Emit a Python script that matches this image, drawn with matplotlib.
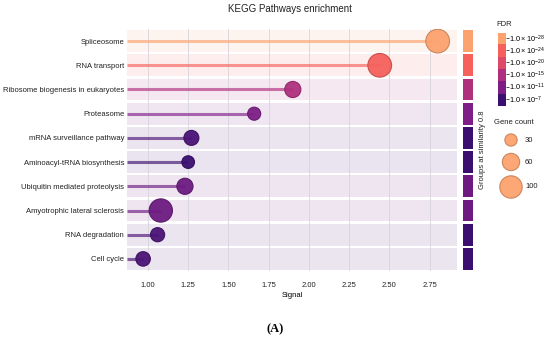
import numpy as np
import matplotlib
matplotlib.use('Agg')
import matplotlib.pyplot as plt
from matplotlib.colors import LinearSegmentedColormap, Normalize, to_rgb

plt.rcParams['font.family'] = ['Liberation Sans', 'DejaVu Sans']
plt.rcParams['mathtext.fontset'] = 'custom'
plt.rcParams['mathtext.rm'] = 'Liberation Sans'
plt.rcParams['mathtext.it'] = 'Liberation Sans'

# data
pathways = ['Spliceosome', 'RNA transport', 'Ribosome biogenesis in eukaryotes',
            'Proteasome', 'mRNA surveillance pathway', 'Aminoacyl-tRNA biosynthesis',
            'Ubiquitin mediated proteolysis', 'Amyotrophic lateral sclerosis',
            'RNA degradation', 'Cell cycle']
signal = [2.80, 2.44, 1.90, 1.66, 1.27, 1.25, 1.23, 1.08, 1.06, 0.97]
gene_count = [112, 112, 52, 34, 45, 32, 52, 108, 40, 42]
fdr_exp = [-29, -24, -15, -11, -8, -7, -10, -10, -8, -8]
group_exp = [-29, -24, -15, -11, -7, -7, -10, -10, -7, -7]

fdr_ticks = [-28, -24, -20, -15, -11, -7]
size_legend = [30, 60, 100]
xticks = [1.00, 1.25, 1.50, 1.75, 2.00, 2.25, 2.50, 2.75]

# colour scale (dark -> light)
cols = ['#3b0f70', '#7e1f87', '#b0307e', '#de4968', '#f6605c', '#fca26e']
norm = Normalize(7, 28)
pos = [norm(-e) for e in fdr_ticks[::-1]]
cmap = LinearSegmentedColormap.from_list('fdr', list(zip(pos, cols)))


def darker(c, f=0.8):
    r, g, b = to_rgb(c)
    return (r * f, g * f, b * f)


W, H = 550, 341
fig = plt.figure(figsize=(W / 100, H / 100), dpi=100)

ax = fig.add_axes([127 / W, 1 - 271 / H, 330 / W, 242 / H])
n = len(pathways)
y = np.arange(n)
pcols = [cmap(norm(-e)) for e in fdr_exp]
xmin, xmax = 0.87, 2.92

for i in range(n):
    ax.axhspan(i - 0.45, i + 0.45, color=pcols[i], alpha=0.11, lw=0, zorder=0)
for t in xticks:
    ax.axvline(t, color='#d6d4dc', lw=0.6, zorder=1)
ax.hlines(y, xmin, signal, colors=pcols, lw=2.2, alpha=0.65, zorder=2)
ax.scatter(signal, y, s=np.array(gene_count) * 2.6, c=pcols,
           edgecolors=[darker(c) for c in pcols], linewidths=0.8, alpha=0.95, zorder=3)

ax.set_xlim(xmin, xmax)
ax.set_ylim(n - 0.5, -0.5)
ax.set_yticks(y)
ax.set_yticklabels(pathways, fontsize=5.5, color='#222222')
ax.set_xticks(xticks)
ax.set_xticklabels(['%.2f' % t for t in xticks], fontsize=5.5, color='#222222')
ax.tick_params(axis='both', length=0)
ax.tick_params(axis='y', pad=2)
ax.tick_params(axis='x', pad=8)
ax.set_xlabel('Signal', fontsize=5.5, labelpad=2)
for s in ax.spines.values():
    s.set_visible(False)

# group side bar
sax = fig.add_axes([463 / W, 1 - 271 / H, 10 / W, 242 / H])
gcols = [cmap(norm(-e)) for e in group_exp]
sax.barh(y, 1, height=0.9, color=gcols, left=0)
sax.set_xlim(0, 1)
sax.set_ylim(n - 0.5, -0.5)
sax.axis('off')
fig.text(483 / W, 1 - 150 / H, 'Groups at similarity 0.8', rotation=90,
         fontsize=5.5, ha='center', va='center', color='#222222')

fig.text(290 / W, 1 - 9 / H, 'KEGG Pathways enrichment', fontsize=7,
         ha='center', va='center', color='#222222')
fig.text(275 / W, 1 - 329 / H, '(A)', fontsize=9, fontweight='bold',
         family='Liberation Serif', ha='center', va='center')

# FDR legend
fig.text(496 / W, 1 - 24 / H, 'FDR', fontsize=5.5, ha='left', va='center', color='#222222')
cax = fig.add_axes([498 / W, 1 - 106 / H, 8 / W, 73 / H])
blk = np.array([[cmap(norm(-e))] for e in fdr_ticks])
cax.imshow(blk, aspect='auto', extent=(0, 1, len(fdr_ticks), 0))
cax.set_xticks([])
cax.yaxis.tick_right()
cax.set_yticks(np.arange(len(fdr_ticks)) + 0.4)
cax.set_yticklabels([r'$1.0\times10^{%d}$' % e for e in fdr_ticks], fontsize=5.3)
cax.tick_params(axis='y', length=2, width=0.6, pad=0.5, color='#333333')
for s in cax.spines.values():
    s.set_visible(False)

# gene count legend
lax = fig.add_axes([0, 0, 1, 1])
lax.set_xlim(0, W)
lax.set_ylim(H, 0)
lax.axis('off')
lax.text(494, 123, 'Gene count', fontsize=5.5, ha='left', va='center', color='#222222')
ly = [140, 162, 187]
lax.scatter([511] * 3, ly, s=np.array(size_legend) * 2.6, c='#fca26e',
            edgecolors=darker('#fca26e'), linewidths=0.8, alpha=0.95)
for v, yy in zip(size_legend, ly):
    lax.text(525, yy, str(v), fontsize=5.5, ha='left', va='center', color='#222222')

fig.savefig('out.png', dpi=100)
